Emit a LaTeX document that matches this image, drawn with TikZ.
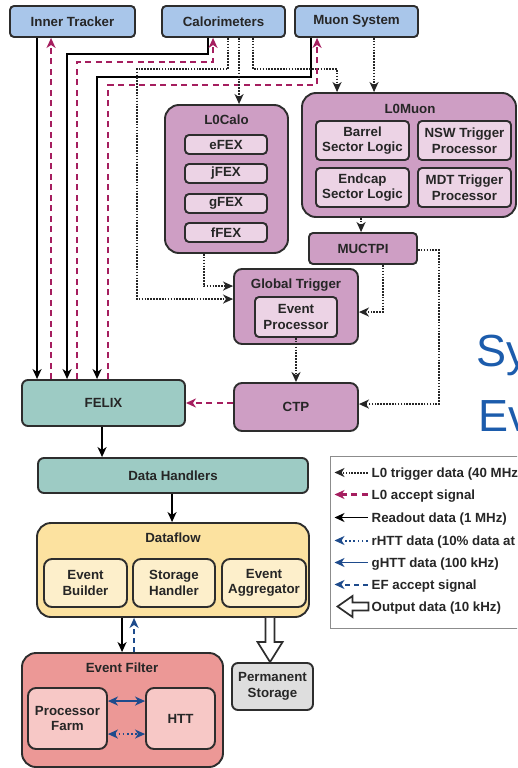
\documentclass[tikz,border=0pt]{standalone}
\usepackage{fontspec}
\setmainfont{Liberation Sans}
\usetikzlibrary{arrows.meta,calc}

\definecolor{edge}{RGB}{45,45,45}
\definecolor{ink}{RGB}{38,38,38}
\definecolor{skyfill}{RGB}{169,198,234}
\definecolor{mauve}{RGB}{206,158,196}
\definecolor{mauvelight}{RGB}{236,211,229}
\definecolor{teal}{RGB}{157,203,196}
\definecolor{sand}{RGB}{252,226,160}
\definecolor{sandlight}{RGB}{253,239,203}
\definecolor{salmon}{RGB}{236,152,150}
\definecolor{salmonlight}{RGB}{247,200,198}
\definecolor{stone}{RGB}{222,222,222}
\definecolor{accept}{RGB}{165,30,95}
\definecolor{navy}{RGB}{30,75,140}
\definecolor{slideblue}{RGB}{28,92,172}

\newcommand{\lbl}{\bfseries\fontsize{13.3}{15.5}\selectfont}
% box from its corners: name, style, x1, y1, x2, y2, text
\newcommand{\boxat}[7]{\node[#2, minimum width={#5pt-#3pt}, minimum height={#6pt-#4pt}] (#1) at ({(#3+#5)/2},{(#4+#6)/2}) {#7};}

\tikzset{
  base/.style={draw=edge, line width=1.9pt, text=ink, font=\lbl, inner sep=0pt, align=center},
  topbox/.style={base, fill=skyfill, rounded corners=4pt},
  pinkbig/.style={base, fill=mauve, rounded corners=14pt},
  pinkmid/.style={base, fill=mauve, rounded corners=8pt},
  pinksmall/.style={base, fill=mauve, rounded corners=4pt},
  pinkin/.style={base, fill=mauvelight, rounded corners=4pt},
  tealbox/.style={base, fill=teal, rounded corners=6pt},
  sandbig/.style={base, fill=sand, rounded corners=14pt},
  sandin/.style={base, fill=sandlight, rounded corners=8pt},
  salmonbig/.style={base, fill=salmon, rounded corners=14pt},
  salmonin/.style={base, fill=salmonlight, rounded corners=8pt},
  stonebox/.style={base, fill=stone, rounded corners=6pt},
  title/.style={text=ink, font=\lbl, inner sep=0pt, anchor=base},
  tip/.style={-{Stealth[length=10pt,width=9pt,inset=3pt]}},
  readout/.style={tip, draw=black, line width=1.8pt},
  acceptline/.style={tip, draw=accept, line width=2.2pt, dash pattern=on 6pt off 4.5pt},
  trigger/.style={tip, draw=black!85, line width=2pt, dash pattern=on 1.6pt off 1.3pt},
  ghtt/.style={draw=navy, line width=1.8pt},
  rhtt/.style={draw=navy, line width=2pt, dash pattern=on 1.6pt off 2.6pt},
  efaccept/.style={tip, draw=navy, line width=2pt, dash pattern=on 5pt off 4pt},
  bluetip/.style={{Stealth[length=10pt,width=9pt,inset=3pt]}-{Stealth[length=10pt,width=9pt,inset=3pt]}},
  outarrow/.style={draw=edge, line width=1.7pt, fill=white, line join=miter},
  legendtxt/.style={text=ink, font=\lbl, inner sep=0pt, anchor=base west}
}

\begin{document}
\begin{tikzpicture}[x=1pt,y=-1pt]
\useasboundingbox (0,0) rectangle (517,768);
\fill[white] (0,0) rectangle (517,768);
\clip (0,0) rectangle (517,768);

% slide lettering behind the diagram
\node[text=slideblue, font=\fontsize{45}{45}\selectfont, inner sep=0pt, anchor=base west] (sy) at (476,366) {Sy};
\node[text=slideblue, font=\fontsize{45}{45}\selectfont, inner sep=0pt, anchor=base west] (ev) at (478,431) {Ev};

% detector systems
\boxat{it}{topbox}{10}{6}{135}{37}{Inner Tracker}
\boxat{cal}{topbox}{162}{6}{285}{37}{Calorimeters}
\boxat{mu}{topbox}{295}{6}{418}{37}{Muon System}

% L0Calo
\boxat{l0calo}{pinkbig}{165}{105}{288}{253}{}
\node[title] (l0calot) at (226.5,124) {L0Calo};
\boxat{efex}{pinkin}{185}{135}{267}{154}{eFEX}
\boxat{jfex}{pinkin}{185}{164}{267}{183}{jFEX}
\boxat{gfex}{pinkin}{185}{194}{267}{213}{gFEX}
\boxat{ffex}{pinkin}{185}{223}{267}{242}{fFEX}

% L0Muon
\boxat{l0mu}{pinkbig}{302}{93}{516}{217}{}
\node[title] (l0mut) at (410,113) {L0Muon};
\boxat{bsl}{pinkin}{316}{121}{409}{160}{Barrel\\Sector Logic}
\boxat{nsw}{pinkin}{418}{121}{511}{160}{NSW Trigger\\Processor}
\boxat{esl}{pinkin}{316}{168}{409}{207}{Endcap\\Sector Logic}
\boxat{mdt}{pinkin}{418}{168}{511}{207}{MDT Trigger\\Processor}

\boxat{muctpi}{pinksmall}{309}{233}{417}{264}{MUCTPI}

% Global Trigger
\boxat{gt}{pinkmid}{234}{269}{358}{344}{}
\node[title] (gtt) at (296,288) {Global Trigger};
\boxat{ep}{pinkin}{255}{297}{337}{337}{Event\\Processor}

\boxat{ctp}{pinkmid}{234}{383}{358}{431}{CTP}

% readout chain
\boxat{felix}{tealbox}{22}{380}{185}{426}{FELIX}
\boxat{dh}{tealbox}{38}{458}{308}{493}{Data Handlers}

\boxat{df}{sandbig}{37}{523}{309}{617}{}
\node[title] (dft) at (173,542) {Dataflow};
\boxat{eb}{sandin}{44}{559}{127}{607}{Event\\Builder}
\boxat{sh}{sandin}{133}{559}{215}{607}{Storage\\Handler}
\boxat{ea}{sandin}{222}{559}{306}{607}{Event\\Aggregator}

\boxat{ef}{salmonbig}{22}{653}{223}{767}{}
\node[title] (eft) at (122,672) {Event Filter};
\boxat{pf}{salmonin}{28}{688}{107}{749}{Processor\\Farm}
\boxat{htt}{salmonin}{146}{688}{215}{749}{HTT}

\boxat{ps}{stonebox}{232}{663}{313}{710}{Permanent\\Storage}

% readout data to FELIX
\draw[readout] ([xshift=28pt]it.south west) -- ([xshift=16pt]felix.north west);
\draw[readout] ([xshift=47pt]cal.south west) -- ++(0,16) -| ([xshift=46pt]felix.north west);
\draw[readout] ([xshift=17pt]mu.south west) -- ++(0,39) -| ([xshift=76pt]felix.north west);

% L0 accept back to the detectors
\draw[acceptline] ([xshift=30pt]felix.north west) -- ([xshift=42pt]it.south west);
\draw[acceptline] ([xshift=56pt]felix.north west) |- ([xshift=52pt,yshift=-24pt]cal.south west) -- ([xshift=52pt]cal.south west);
\draw[acceptline] ([xshift=87pt]felix.north west) |- ([xshift=23pt,yshift=-47pt]mu.south west) -- ([xshift=23pt]mu.south west);
\draw[acceptline] (ctp.west |- felix.east) -- (felix.east);

% L0 trigger data
\draw[trigger] ([xshift=67pt]cal.south west) -- ++(0,31) -- ++(-91,0) |- ([yshift=-31pt]gt.north west);
\draw[trigger] ([xshift=78pt]cal.south west) -- ([xshift=75pt]l0calo.north west);
\draw[trigger] ([xshift=92pt]cal.south west) -- ++(0,31) -| ([xshift=36pt]l0mu.north west);
\draw[trigger] ([xshift=80pt]mu.south west) -- ([xshift=73pt]l0mu.north west);
\draw[trigger] ([xshift=40pt]l0calo.south west) |- ([yshift=-18pt]gt.north west);
\draw[trigger] ([xshift=60pt]l0mu.south west) -- ([xshift=53pt]muctpi.north west);
\draw[trigger] ([xshift=75pt]muctpi.south west) |- ([yshift=-44pt]gt.north east);
\draw[trigger] ([yshift=-18pt]muctpi.north east) -- ++(21,0) |- ([yshift=-22pt]ctp.north east);
\draw[trigger] (ep.south) -- (ctp.north);

% dataflow
\draw[readout] ([xshift=81pt]felix.south west) -- ([xshift=65pt]dh.north west);
\draw[readout] ([xshift=135pt]dh.south west) -- ([xshift=136pt]df.north west);
\draw[readout] ([xshift=86pt]df.south west) -- ([xshift=101pt]ef.north west);
\draw[efaccept] ([xshift=113pt]ef.north west) -- ([xshift=98pt]df.south west);

% output to permanent storage
\coordinate (oa) at ([xshift=234pt]df.south west);
\coordinate (ob) at ([xshift=39pt]ps.north west);
\draw[outarrow] ($(oa)+(-4.5,0)$) -- ($(ob)+(-4.5,-20)$) -- ($(ob)+(-12.5,-20)$) -- (ob)
  -- ($(ob)+(12.5,-20)$) -- ($(ob)+(4.5,-20)$) -- ($(oa)+(4.5,0)$);

% links between processor farm and HTT
\draw[ghtt, bluetip] ([yshift=-14pt]pf.north east) -- ([yshift=-14pt]htt.north west);
\draw[rhtt, bluetip] ([yshift=-47pt]pf.north east) -- ([yshift=-47pt]htt.north west);

% legend
\boxat{legend}{draw=black!45, line width=1pt}{330}{456}{545}{628}{}
\draw[trigger] ([xshift=38pt,yshift=-17pt]legend.north west) -- ([xshift=5pt,yshift=-17pt]legend.north west);
\node[legendtxt] (lg1) at ([xshift=42pt,yshift=-22pt]legend.north west) {L0 trigger data (40 MHz)};
\draw[acceptline] ([xshift=38pt,yshift=-39pt]legend.north west) -- ([xshift=5pt,yshift=-39pt]legend.north west);
\node[legendtxt] (lg2) at ([xshift=42pt,yshift=-44pt]legend.north west) {L0 accept signal};
\draw[readout] ([xshift=38pt,yshift=-62pt]legend.north west) -- ([xshift=5pt,yshift=-62pt]legend.north west);
\node[legendtxt] (lg3) at ([xshift=42pt,yshift=-67pt]legend.north west) {Readout data (1 MHz)};
\draw[rhtt, tip] ([xshift=38pt,yshift=-85pt]legend.north west) -- ([xshift=5pt,yshift=-85pt]legend.north west);
\node[legendtxt] (lg4) at ([xshift=42pt,yshift=-90pt]legend.north west) {rHTT data (10\% data at 1 MHz)};
\draw[ghtt, tip] ([xshift=38pt,yshift=-107pt]legend.north west) -- ([xshift=5pt,yshift=-107pt]legend.north west);
\node[legendtxt] (lg5) at ([xshift=42pt,yshift=-112pt]legend.north west) {gHTT data (100 kHz)};
\draw[efaccept] ([xshift=38pt,yshift=-129pt]legend.north west) -- ([xshift=5pt,yshift=-129pt]legend.north west);
\node[legendtxt] (lg6) at ([xshift=42pt,yshift=-134pt]legend.north west) {EF accept signal};
\coordinate (lo) at ([xshift=8pt,yshift=-151pt]legend.north west);
\draw[outarrow] (lo) -- ++(15,-10.5) -- ++(0,6.5) -- ++(16,0) -- ++(0,8) -- ++(-16,0) -- ++(0,6.5) -- cycle;
\node[legendtxt] (lg7) at ([xshift=42pt,yshift=-156pt]legend.north west) {Output data (10 kHz)};
\end{tikzpicture}
\end{document}
